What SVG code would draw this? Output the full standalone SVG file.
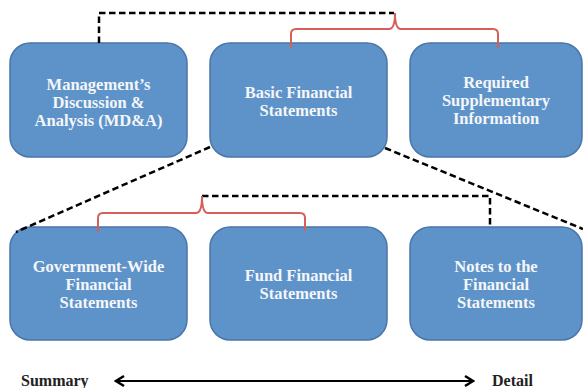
<svg xmlns="http://www.w3.org/2000/svg" width="583" height="388" viewBox="0 0 583 388">
<defs>
<style>
.box{fill:#5e93c9;stroke:#4a76a8;stroke-width:1.5}
.lbl{font-family:"Liberation Serif","Times New Roman",serif;font-weight:bold;font-size:16.5px;fill:#f4f6fa;text-anchor:middle}
.dash{fill:none;stroke:#000;stroke-width:2.5;stroke-dasharray:6.5 3.5}
.brace{fill:none;stroke:#d4605a;stroke-width:2}
.axis{font-family:"Liberation Serif","Times New Roman",serif;font-weight:bold;font-size:16px;fill:#222}
</style>
<marker id="chev" viewBox="0 0 12 12" refX="10" refY="6" markerWidth="12" markerHeight="12" markerUnits="userSpaceOnUse" orient="auto-start-reverse">
<polyline points="2,1 10,6 2,11" fill="none" stroke="#000" stroke-width="2.4"/>
</marker>
</defs>
<rect width="583" height="388" fill="#fff"/>
<g id="n-mda"><rect class="box" x="10" y="43" width="177" height="114" rx="20"/>
<text class="lbl" x="98.5" y="90">Management’s</text><text class="lbl" x="98.5" y="108">Discussion &amp;</text><text class="lbl" x="98.5" y="126">Analysis (MD&amp;A)</text></g>
<g id="n-bfs"><rect class="box" x="210" y="43" width="177" height="114" rx="20"/>
<text class="lbl" x="298.5" y="98">Basic Financial</text><text class="lbl" x="298.5" y="116">Statements</text></g>
<g id="n-rsi"><rect class="box" x="410" y="43" width="172" height="114" rx="20"/>
<text class="lbl" x="496" y="88">Required</text><text class="lbl" x="496" y="106">Supplementary</text><text class="lbl" x="496" y="124">Information</text></g>
<g id="n-gw"><rect class="box" x="10" y="227" width="177" height="113" rx="20"/>
<text class="lbl" x="98.5" y="272">Government-Wide</text><text class="lbl" x="98.5" y="290">Financial</text><text class="lbl" x="98.5" y="308">Statements</text></g>
<g id="n-ffs"><rect class="box" x="210" y="227" width="177" height="113" rx="20"/>
<text class="lbl" x="298.5" y="281">Fund Financial</text><text class="lbl" x="298.5" y="299">Statements</text></g>
<g id="n-notes"><rect class="box" x="410" y="227" width="172" height="113" rx="20"/>
<text class="lbl" x="496" y="272">Notes to the</text><text class="lbl" x="496" y="290">Financial</text><text class="lbl" x="496" y="308">Statements</text></g>
<g id="connectors">
<path class="dash" d="M99,43 V13 H394"/>
<path class="brace" d="M291,48 V34 Q291,29 296,29 H389 Q395,29 395,13 Q395,29 401,29 H493 Q498,29 498,34 V48"/>
<path class="dash" d="M210,147 L16,232"/>
<path class="dash" d="M385,148 L583,229"/>
<path class="dash" d="M202,196 H490 V227"/>
<path class="brace" d="M98,232 V218 Q98,213 103,213 H196 Q202,213 202,196 Q202,213 208,213 H300 Q305,213 305,218 V231"/>
<line x1="116" y1="381" x2="473" y2="381" stroke="#000" stroke-width="2" marker-start="url(#chev)" marker-end="url(#chev)"/>
</g>
<text class="axis" x="21" y="386">Summary</text>
<text class="axis" x="492" y="386">Detail</text>
</svg>
